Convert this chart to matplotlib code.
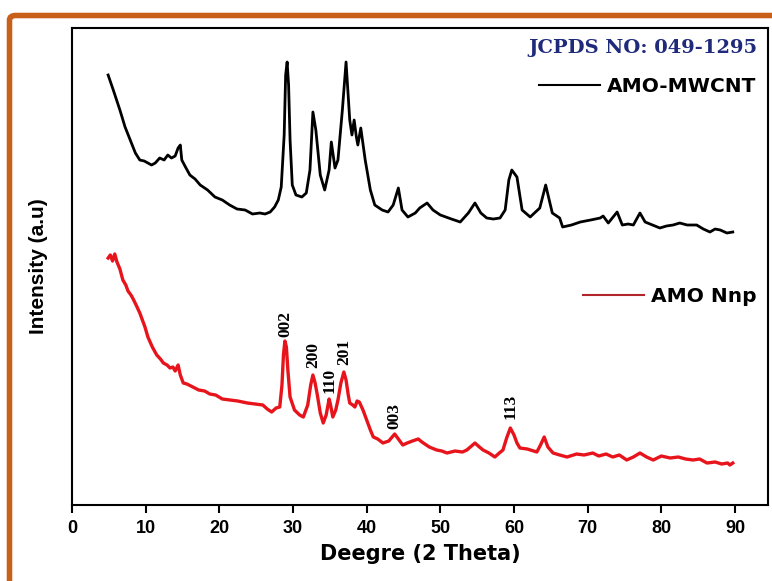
import matplotlib.pyplot as plt
from matplotlib.lines import Line2D
from matplotlib.patches import FancyBboxPatch

# AMO-MWCNT (black) trace, 2theta vs intensity (a.u.)
mwcnt_x = [4.9, 5.6, 6.5, 7.2, 7.9, 8.6, 9.2, 9.8, 10.3, 10.8, 11.3, 11.9, 12.5, 13.0, 13.5, 14.0, 14.4, 14.7, 14.9,
           15.4, 16.0, 16.7, 17.4, 18.4, 19.4, 20.4, 21.4, 22.4, 23.5, 24.5, 25.5, 26.2, 26.9, 27.5, 28.0, 28.4,
           28.8, 29.0, 29.2, 29.4, 29.6, 29.9,
           30.4, 31.2, 31.8, 32.3, 32.7, 33.1, 33.7, 34.3, 34.9, 35.2, 35.7, 36.1, 36.7, 37.2, 37.7,
           38.0, 38.3, 38.6, 38.8, 39.2, 39.8, 40.5, 41.1, 42.1, 42.9, 43.6, 44.3, 44.8, 45.6, 46.6,
           47.2, 48.2, 49.0, 50.0, 51.5, 52.7, 53.8, 54.7, 55.5, 56.3, 57.2, 58.1, 58.8, 59.3, 59.7, 60.4,
           61.1, 62.2, 63.5, 64.3, 65.2, 66.2, 66.6, 67.8, 69.0, 70.4, 71.7, 72.1, 72.8, 74.0, 74.7, 75.5, 76.2, 77.1,
           77.8, 78.8, 79.8, 80.7, 81.6, 82.5, 83.5, 84.8, 85.7, 86.6, 87.3, 88.0, 88.9, 89.7]
mwcnt_y = [430, 415, 395, 378, 365, 352, 345, 344, 342, 340, 342, 347, 345, 350, 347, 349, 357, 360, 345,
           338, 330, 326, 320, 315, 308, 305, 300, 296, 295, 291, 292, 291, 293, 298, 305, 318,
           370, 430, 443, 420, 365, 320,
           310, 308, 312, 335, 393, 375, 330, 315, 335, 363, 337, 345, 395, 443, 385,
           370, 385, 368, 360, 377, 345, 315, 300, 295, 293, 300, 317, 295, 288, 292,
           297, 302, 295, 290, 286, 283, 292, 302, 292, 287, 286, 287, 295, 325, 335, 328,
           295, 288, 297, 320, 292, 287, 278, 280, 283, 285, 287, 289, 282, 293, 280, 281, 280, 292,
           283, 280, 277, 279, 280, 282, 280, 280, 276, 273, 276, 275, 272, 273]

# AMO Nnp (red) trace
nnp_x = [4.9, 5.2, 5.5, 5.8, 6.1, 6.5, 6.9, 7.3, 7.6, 8.0, 8.3, 8.7, 9.2, 9.5, 9.9, 10.3, 10.9, 11.5,
         12.0, 12.4, 12.9, 13.3, 13.7, 14.0, 14.4, 14.7, 15.1, 15.6, 16.4, 17.2, 18.0, 18.7, 19.5,
         20.4, 21.4, 22.5, 23.8, 24.8, 25.9, 26.5, 27.1, 27.7, 28.2, 28.5, 28.7, 28.9, 29.1, 29.3,
         29.6, 30.2, 30.9, 31.4, 32.0, 32.4, 32.7, 33.0, 33.3, 33.7, 34.1, 34.5, 34.9, 35.1, 35.4,
         35.8, 36.1, 36.5, 36.9, 37.2, 37.5, 37.7, 38.1, 38.4, 38.7, 39.0, 39.5, 40.0, 40.5, 40.9,
         41.5, 42.2, 43.0, 43.8, 44.3, 44.9, 45.5, 46.2, 47.0, 47.5, 48.5, 49.5, 50.2, 50.9, 52.0,
         53.0, 53.6, 54.7, 55.3, 55.8, 56.6, 57.4, 58.0, 58.5, 59.0, 59.5, 60.0, 60.4, 60.8, 61.8,
         63.1, 63.6, 64.1, 64.6, 65.3, 66.2, 67.2, 68.5, 69.5, 70.7, 71.5, 72.5, 73.4, 74.3, 75.3,
         76.2, 77.1, 78.0, 78.9, 80.0, 81.2, 82.3, 83.3, 84.3, 85.2, 86.2, 87.3, 88.2, 89.0, 89.3, 89.7]
nnp_y = [247, 250, 244, 251, 243, 236, 225, 220, 214, 210, 206, 200, 192, 186, 178, 168, 158, 150,
         146, 142, 140, 137, 138, 134, 140, 130, 122, 121, 118, 115, 114, 111, 110,
         106, 105, 104, 102, 101, 100, 96, 93, 97, 98, 120, 150, 164, 158, 135,
         108, 95, 90, 88, 100, 120, 130, 122, 110, 92, 82, 90, 106, 100, 88,
         95, 105, 122, 133, 125, 110, 102, 100, 98, 104, 103, 95, 85, 75, 68,
         66, 62, 64, 71, 66, 60, 62, 64, 66, 63, 58, 55, 54, 52, 54,
         53, 55, 62, 58, 55, 52, 48, 52, 55, 67, 77, 70, 62, 57, 56,
         53, 60, 68, 58, 52, 50, 48, 51, 50, 52, 49, 51, 48, 50, 45,
         48, 52, 48, 45, 49, 47, 48, 46, 45, 46, 42, 43, 41, 42, 40, 42]

# (hkl) labels on the red pattern
hkl_labels = ["002", "200", "110", "201", "003", "113"]
hkl_x = [28.9, 32.7, 34.9, 37.0, 43.8, 59.5]
hkl_y = [168, 137, 112, 140, 76, 86]

fig = plt.figure(figsize=(7.72, 5.81), dpi=100)
ax = fig.add_axes([0.0933, 0.1308, 0.9017, 0.8210])

ax.plot(mwcnt_x, mwcnt_y, color="black", lw=2.0, label="AMO-MWCNT")
ax.plot(nnp_x, nnp_y, color="#e8141c", lw=2.4, label="AMO Nnp")

for lab, x, y in zip(hkl_labels, hkl_x, hkl_y):
    ax.text(x, y, lab, rotation=90, ha="center", va="bottom",
            family="Liberation Serif", fontweight="bold", fontsize=12.5)

ax.set_xlim(0, 94.5)
ax.set_ylim(0, 477)
ax.set_xticks(range(0, 100, 10))
ax.set_yticks([])
ax.tick_params(axis="x", direction="out", length=6, width=1.5, labelsize=13, pad=5)
for lbl in ax.get_xticklabels():
    lbl.set_fontweight("bold")
    lbl.set_family("Liberation Sans")
for sp in ax.spines.values():
    sp.set_linewidth(1.5)

ax.set_xlabel("Deegre (2 Theta)", fontsize=15, fontweight="bold",
              family="DejaVu Sans", labelpad=5)
ax.set_ylabel("Intensity (a.u)", fontsize=15, fontweight="bold",
              family="Liberation Sans", labelpad=17)

ax.text(0.985, 0.958, "JCPDS NO: 049-1295", transform=ax.transAxes, ha="right", va="center",
        family="DejaVu Serif", fontweight="bold", fontsize=14, color="#1f2a7a")

h_black = Line2D([], [], color="black", lw=1.5)
h_red = Line2D([], [], color="#b0252a", lw=1.5)
leg_font = {"family": "DejaVu Sans", "weight": "bold", "size": 14.5}
leg1 = ax.legend([h_black], ["AMO-MWCNT"], loc="center right", bbox_to_anchor=(0.983, 0.878),
                 frameon=False, handlelength=3.0, handletextpad=0.35,
                 borderpad=0, borderaxespad=0, prop=leg_font)
ax.add_artist(leg1)
ax.legend([h_red], ["AMO Nnp"], loc="center right", bbox_to_anchor=(0.983, 0.438),
          frameon=False, handlelength=3.0, handletextpad=0.35,
          borderpad=0, borderaxespad=0, prop=leg_font)

# orange frame around the figure (top and left visible)
frame = FancyBboxPatch((9.5 / 772, -0.2), 1.3, 1.2 - 15.5 / 581,
                       boxstyle="round,pad=0,rounding_size=0.008",
                       transform=fig.transFigure, fill=False,
                       edgecolor="#c8601a", lw=4, clip_on=False)
fig.patches.append(frame)

fig.savefig("out.png", dpi=100)
